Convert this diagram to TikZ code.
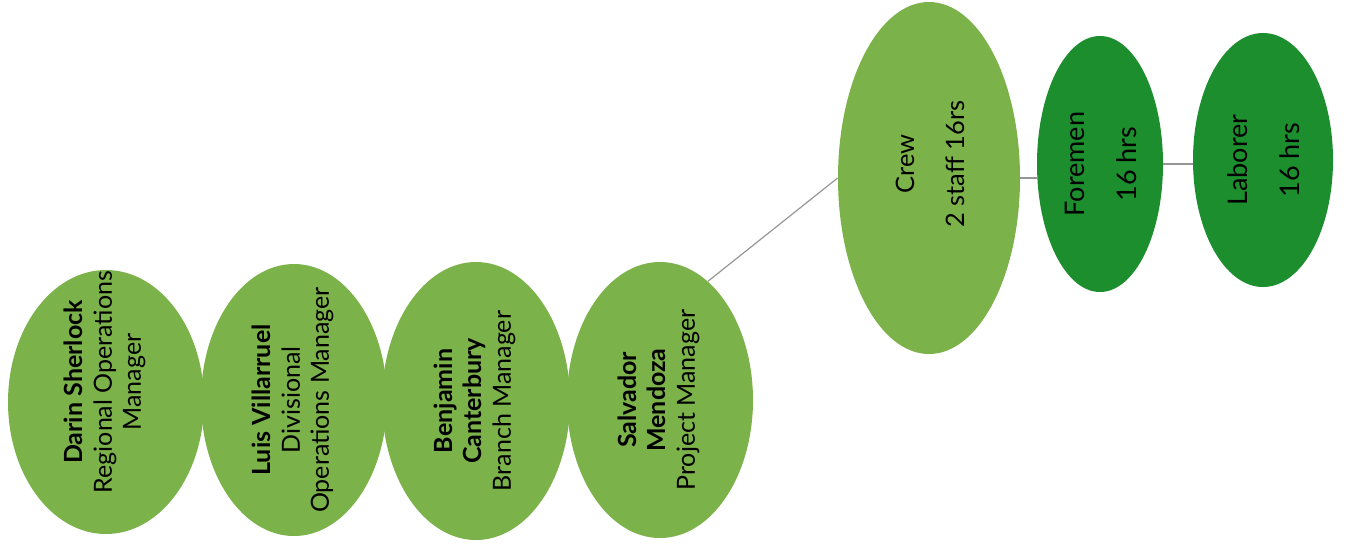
\documentclass[tikz,border=0pt]{standalone}
\usepackage{fontspec}
\setmainfont{Lato}
\usepackage{graphicx}
\usetikzlibrary{shapes.geometric}
\definecolor{lightleaf}{RGB}{124,178,74}
\definecolor{darkleaf}{RGB}{28,142,46}
\definecolor{wiregray}{RGB}{150,150,150}
% text turned a quarter, taking no room in the node
\newcommand{\vtext}[2][0pt]{\makebox[0pt]{\raisebox{\dimexpr-0.5\height+#1\relax}[0pt][0pt]{\rotatebox{90}{\begin{tabular}{@{}c@{}}#2\end{tabular}}}}}
\begin{document}
\begin{tikzpicture}[x=0.5pt,y=-0.5pt,
	oval/.style={ellipse, fill=lightleaf, inner sep=0pt, font=\fontsize{12.5}{14.5}\selectfont},
	darkoval/.style={oval, fill=darkleaf, font=\fontsize{13.5}{26}\selectfont},
	wire/.style={draw=wiregray, line width=0.6pt}]
	\useasboundingbox (0,0) rectangle (1354,548);
%	\draw[help lines] (0,0) grid (1354,548);
	\node [oval, minimum width=98pt, minimum height=132pt] (darin) at (106,402) {\vtext[10pt]{\textbf{Darin Sherlock}\\Regional Operations\\Manager}};
	\node [oval, minimum width=93pt, minimum height=136pt] (luis) at (294,400) {\vtext{\textbf{Luis Villarruel}\\Divisional\\Operations Manager}};
	\node [oval, minimum width=94pt, minimum height=139pt] (benjamin) at (476,401) {\vtext{\textbf{Benjamin}\\\textbf{Canterbury}\\Branch Manager}};
	\node [oval, minimum width=93pt, minimum height=138pt] (salvador) at (660,400) {\vtext{\textbf{Salvador}\\\textbf{Mendoza}\\Project Manager}};
	\node [oval, minimum width=91pt, minimum height=176pt, font=\fontsize{12.7}{25}\selectfont] (crew) at (929,178) {\vtext[7pt]{Crew\\2 staff 16rs}};
	\node [darkoval, minimum width=63pt, minimum height=128pt] (foremen) at (1100,164) {\vtext{Foremen\\16 hrs}};
	\node [darkoval, minimum width=70pt, minimum height=127pt] (laborer) at (1263,160) {\vtext{Laborer\\16 hrs}};
	\draw [wire] (salvador.68) -- (crew.west);
	\draw [wire] (crew.east) -- (crew.east -| foremen.west);
	\draw [wire] (foremen.east) -- (foremen.east -| laborer.west);
\end{tikzpicture}
\end{document}
